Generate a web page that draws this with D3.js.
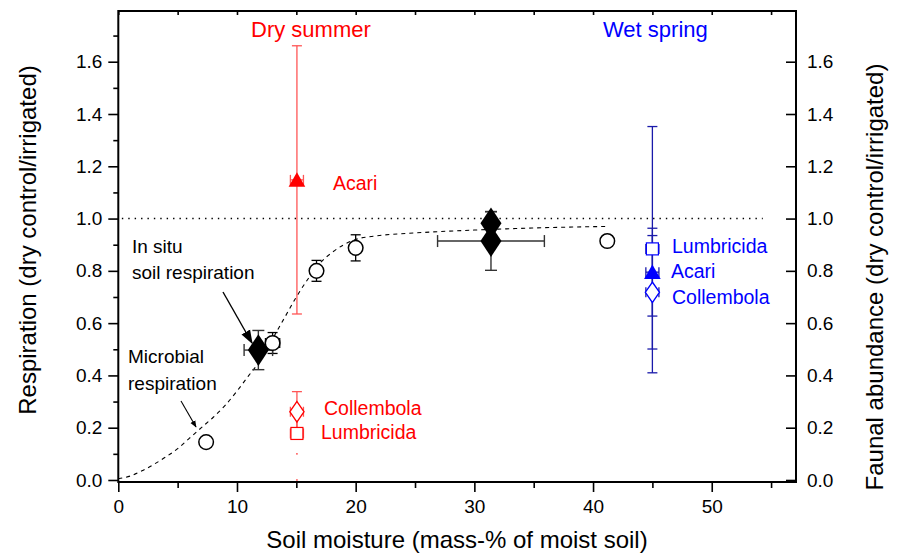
<!DOCTYPE html>
<html><head><meta charset="utf-8">
<script src="https://cdn.jsdelivr.net/npm/d3@7"></script>
<style>body{margin:0;background:#fff}svg{display:block;font-family:"Liberation Sans",Arial,sans-serif}</style>
</head><body><svg id="c" width="898" height="556"></svg>
<script>
// ---- data ----
const xTicks = [0,10,20,30,40,50];
const yTicks = [0.0,0.2,0.4,0.6,0.8,1.0,1.2,1.4,1.6];
// microbial respiration (open circles): x, y, xerr, yerr
const microX = [7.4, 13.0, 16.7, 20.0, 41.2];
const microY = [0.145, 0.524, 0.80, 0.888, 0.914];
const microXErr = [0.3, 0.6, 0.3, 0.3, 0.3];
const microYErr = [0.02, 0.04, 0.04, 0.05, 0.02];
// in situ soil respiration (filled diamonds)
const insituX = [11.8, 31.4, 31.4];
const insituY = [0.497, 0.982, 0.914];
const insituXErr = [1.2, 0, 4.5];
const insituYErr = [0.075, 0.045, 0.112];
// fitted curve
const curveX = [0,1,2,3,4,5,6,7,8,9,10,11,12,13,14,15,16,17,18,19,20,22,25,30,35,41.3];
const curveY = [0.005,0.015,0.035,0.06,0.088,0.12,0.16,0.2,0.24,0.285,0.34,0.4,0.46,0.54,0.62,0.70,0.77,0.83,0.87,0.9,0.92,0.935,0.945,0.956,0.964,0.97];
// fauna, dry summer (red) at x=15 and wet spring (blue) at x=45
const faunaTaxa = ["Acari","Collembola","Lumbricida"];
const drySummerY = [1.148, 0.261, 0.178];
const drySummerLow = [0.635, 0.184, 0.10];
const drySummerHigh = [1.661, 0.338, 0.256];
const dryLumbricidaDots = [0.10, 0.0];
const wetSpringY = [0.795, 0.718, 0.884];
const wetSpringLow = [0.627, 0.501, 0.41];
const wetSpringHigh = [0.963, 0.935, 1.352];
const dryX = 15.05, wetX = 45.0;

const svg = d3.select("#c");
const x = d3.scaleLinear().domain([0,57.1]).range([118.3,796]);
const y = d3.scaleLinear().domain([-0.0077,1.794]).range([482,11]);
const L=118.3,R=796,T=11,B=482;

// axes
const fs=19;
const gl = svg.append("g").attr("transform",`translate(${L},0)`)
  .call(d3.axisLeft(y).tickValues(yTicks).tickFormat(d3.format(".1f")).tickSize(10).tickSizeOuter(0).tickPadding(6));
const gl2 = svg.append("g").attr("transform",`translate(${L},0)`)
  .call(d3.axisLeft(y).tickValues(d3.range(1,18,2).map(d=>d/10)).tickFormat("").tickSize(5).tickSizeOuter(0));
const gr = svg.append("g").attr("transform",`translate(${R},0)`)
  .call(d3.axisRight(y).tickValues(yTicks).tickFormat(d3.format(".1f")).tickSize(-10).tickSizeOuter(0).tickPadding(11));
const gb = svg.append("g").attr("transform",`translate(0,${B})`)
  .call(d3.axisBottom(x).tickValues(xTicks).tickSize(10).tickSizeOuter(0).tickPadding(8));
const gb2 = svg.append("g").attr("transform",`translate(0,${B})`)
  .call(d3.axisBottom(x).tickValues([5,15,25,35,45,55]).tickFormat("").tickSize(6).tickSizeOuter(0));
const gt = svg.append("g").attr("transform",`translate(0,${T})`)
  .call(d3.axisTop(x).tickValues(d3.range(0,60,5)).tickFormat("").tickSize(-4).tickSizeOuter(0));
[gl,gl2,gr,gb,gb2,gt].forEach(g=>{
  g.select(".domain").remove();
  g.selectAll("line").attr("stroke","#000").attr("stroke-width",1.6);
  g.selectAll("text").attr("font-size",fs).attr("fill","#000").attr("font-family","Liberation Sans, Arial, sans-serif");
});
svg.append("rect").attr("x",L).attr("y",T).attr("width",R-L).attr("height",B-T)
  .attr("fill","none").attr("stroke","#000").attr("stroke-width",2);

// axis titles
svg.append("text").attr("x",457).attr("y",548).attr("text-anchor","middle").attr("font-size",24).text("Soil moisture (mass-% of moist soil)");
svg.append("text").attr("transform","translate(36,240) rotate(-90)").attr("text-anchor","middle").attr("font-size",24).text("Respiration (dry control/irrigated)");
svg.append("text").attr("transform","translate(883,277) rotate(-90)").attr("text-anchor","middle").attr("font-size",24).text("Faunal abundance (dry control/irrigated)");

// reference line at 1.0
svg.append("line").attr("x1",x(0.3)).attr("x2",x(54.3)).attr("y1",y(1)).attr("y2",y(1))
  .attr("stroke","#000").attr("stroke-width",1.4).attr("stroke-dasharray","1.4,5");

// fitted curve
svg.append("path").datum(curveX.map((d,i)=>[d,curveY[i]]))
  .attr("d",d3.line().x(d=>x(d[0])).y(d=>y(d[1])).curve(d3.curveMonotoneX))
  .attr("fill","none").attr("stroke","#000").attr("stroke-width",1.1).attr("stroke-dasharray","4,4");

function errbar(g,cx,cy,lo,hi,xlo,xhi,col,w,cap){
  if(hi!==null){
    g.append("line").attr("x1",x(cx)).attr("x2",x(cx)).attr("y1",y(lo)).attr("y2",y(hi)).attr("stroke",col).attr("stroke-width",w);
    [lo,hi].forEach(v=>g.append("line").attr("x1",x(cx)-cap).attr("x2",x(cx)+cap).attr("y1",y(v)).attr("y2",y(v)).attr("stroke",col).attr("stroke-width",w));
  }
  if(xhi!==null && xhi>xlo){
    g.append("line").attr("x1",x(xlo)).attr("x2",x(xhi)).attr("y1",y(cy)).attr("y2",y(cy)).attr("stroke",col).attr("stroke-width",w);
    [xlo,xhi].forEach(v=>g.append("line").attr("x1",x(v)).attr("x2",x(v)).attr("y1",y(cy)-cap).attr("y2",y(cy)+cap).attr("stroke",col).attr("stroke-width",w));
  }
}
const gE = svg.append("g");
const gM = svg.append("g");
const sym = (type,size)=>d3.symbol().type(type).size(size)();

// microbial circles
microX.forEach((mx,i)=>{
  errbar(gE,mx,microY[i],microY[i]-microYErr[i],microY[i]+microYErr[i],mx-microXErr[i],mx+microXErr[i],"#000",1.3,5);
  gM.append("circle").attr("cx",x(mx)).attr("cy",y(microY[i])).attr("r",7.3)
    .attr("fill","#fff").attr("stroke","#000").attr("stroke-width",1.5);
});
// in situ diamonds
insituX.forEach((ix,i)=>{
  errbar(gE,ix,insituY[i],insituY[i]-insituYErr[i],insituY[i]+insituYErr[i],ix-insituXErr[i],ix+insituXErr[i],"#333",1.4,6);
  gM.append("path").attr("transform",`translate(${x(ix)},${y(insituY[i])}) scale(1.15,1)`)
    .attr("d",sym(d3.symbolDiamond,290)).attr("fill","#000");
});

// fauna
const shapes = {Acari:"tri",Collembola:"dia",Lumbricida:"sq"};
function fauna(cx,vals,lo,hi,col,barCol,faint){
  faunaTaxa.forEach((t,i)=>{
    if(faint && t==="Lumbricida"){
      errbar(gE,cx,vals[i],vals[i],hi[i],cx-0.55,cx+0.55,barCol,1.3,5);
      dryLumbricidaDots.forEach(v=>gE.append("rect").attr("x",x(cx)-0.8).attr("y",y(v)-0.8)
        .attr("width",1.6).attr("height",1.6).attr("fill",barCol));
    } else {
      errbar(gE,cx,vals[i],lo[i],hi[i],cx-0.55,cx+0.55,barCol,1.3,5);
    }
    const px=x(cx), py=y(vals[i]);
    if(shapes[t]==="tri") gM.append("path").attr("transform",`translate(${px},${py+2})`).attr("d",sym(d3.symbolTriangle,120)).attr("fill",col);
    if(shapes[t]==="dia") gM.append("path").attr("transform",`translate(${px},${py}) scale(1.2,1)`).attr("d",sym(d3.symbolDiamond,120)).attr("fill","#fff").attr("stroke",col).attr("stroke-width",1.2);
    if(shapes[t]==="sq") gM.append("rect").attr("x",px-6).attr("y",py-6).attr("width",12).attr("height",12).attr("fill","#fff").attr("stroke",col).attr("stroke-width",1.2);
  });
}
fauna(dryX,drySummerY,drySummerLow,drySummerHigh,"#ff0000","#ff5555",true);
fauna(wetX,wetSpringY,wetSpringLow,wetSpringHigh,"#0000ff","#1a1aaa",false);

// labels
const lab=(tx,ty,s,col,size)=>svg.append("text").attr("x",tx).attr("y",ty).attr("fill",col).attr("font-size",size).text(s);
lab(251,37,"Dry summer","#ff0000",22);
lab(603,37,"Wet spring","#0000ff",22);
lab(333,190,"Acari","#ff0000",19.5);
lab(324,415,"Collembola","#ff0000",19.5);
lab(321,439,"Lumbricida","#ff0000",19.5);
lab(672,253,"Lumbricida","#0000ff",19.5);
lab(671,278,"Acari","#0000ff",19.5);
lab(672,304,"Collembola","#0000ff",19.5);
lab(132,253,"In situ","#000",19);
lab(132,279,"soil respiration","#000",19);
lab(128,363,"Microbial","#000",19);
lab(128,390,"respiration","#000",19);

// arrows
svg.append("defs").append("marker").attr("id","ah").attr("viewBox","0 0 10 10").attr("refX",9).attr("refY",5)
  .attr("markerWidth",7).attr("markerHeight",7).attr("orient","auto").attr("markerUnits","userSpaceOnUse")
  .append("path").attr("d","M0,1 L10,5 L0,9 Z").attr("fill","#000");
svg.append("defs").append("marker").attr("id","ah2").attr("viewBox","0 0 10 10").attr("refX",9).attr("refY",5)
  .attr("markerWidth",14).attr("markerHeight",14).attr("orient","auto").attr("markerUnits","userSpaceOnUse")
  .append("path").attr("d","M0,1.5 L10,5 L0,8.5 Z").attr("fill","#000");
svg.append("line").attr("x1",223).attr("y1",292).attr("x2",252).attr("y2",343).attr("stroke","#000").attr("stroke-width",1.4).attr("marker-end","url(#ah2)");
svg.append("line").attr("x1",181).attr("y1",401).attr("x2",196).attr("y2",427).attr("stroke","#000").attr("stroke-width",1.1).attr("marker-end","url(#ah)");
</script></body></html>
